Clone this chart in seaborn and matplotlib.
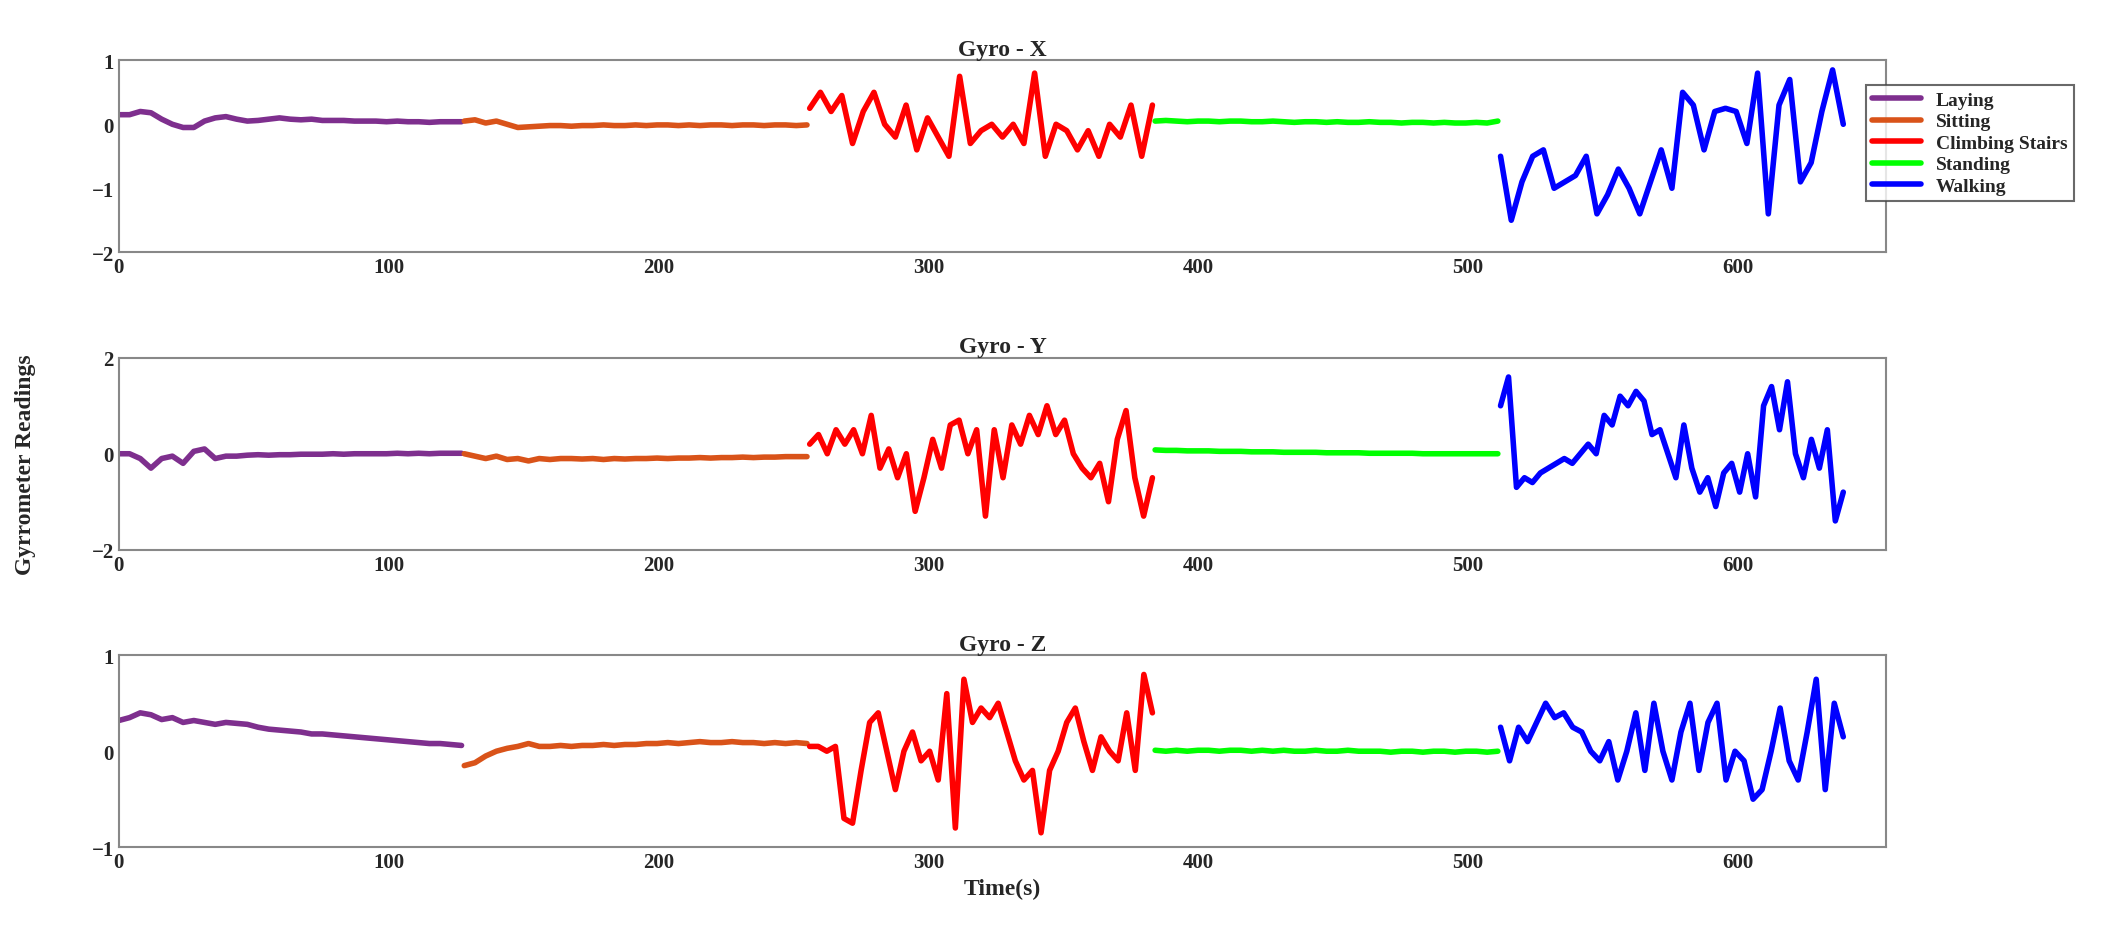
import numpy as np
import pandas as pd
import seaborn as sns
import matplotlib.pyplot as plt

activities = ["Laying", "Sitting", "Climbing Stairs", "Standing", "Walking"]
colors = ["#7E2F8E", "#D95319", "#FF0000", "#00FF00", "#0000FF"]
seg_starts = [0, 128, 256, 384, 512]
seg_len = 128

gyro_x = {
    "Laying": [0.15, 0.15, 0.2, 0.18, 0.08, 0.0, -0.05, -0.05, 0.05, 0.1, 0.12, 0.08, 0.05, 0.06, 0.08, 0.1, 0.08, 0.07, 0.08, 0.06, 0.06, 0.06, 0.05, 0.05, 0.05, 0.04, 0.05, 0.04, 0.04, 0.03, 0.04, 0.04, 0.04],
    "Sitting": [0.05, 0.07, 0.02, 0.05, 0.0, -0.05, -0.04, -0.03, -0.02, -0.02, -0.03, -0.02, -0.02, -0.01, -0.02, -0.02, -0.01, -0.02, -0.01, -0.01, -0.02, -0.01, -0.02, -0.01, -0.01, -0.02, -0.01, -0.01, -0.02, -0.01, -0.01, -0.02, -0.01],
    "Climbing Stairs": [0.25, 0.5, 0.2, 0.45, -0.3, 0.2, 0.5, 0.0, -0.2, 0.3, -0.4, 0.1, -0.2, -0.5, 0.75, -0.3, -0.1, 0.0, -0.2, 0.0, -0.3, 0.8, -0.5, 0.0, -0.1, -0.4, -0.1, -0.5, 0.0, -0.2, 0.3, -0.5, 0.3],
    "Standing": [0.05, 0.06, 0.05, 0.04, 0.05, 0.05, 0.04, 0.05, 0.05, 0.04, 0.04, 0.05, 0.04, 0.03, 0.04, 0.04, 0.03, 0.04, 0.03, 0.03, 0.04, 0.03, 0.03, 0.02, 0.03, 0.03, 0.02, 0.03, 0.02, 0.02, 0.03, 0.02, 0.05],
    "Walking": [-0.5, -1.5, -0.9, -0.5, -0.4, -1.0, -0.9, -0.8, -0.5, -1.4, -1.1, -0.7, -1.0, -1.4, -0.9, -0.4, -1.0, 0.5, 0.3, -0.4, 0.2, 0.25, 0.2, -0.3, 0.8, -1.4, 0.3, 0.7, -0.9, -0.6, 0.2, 0.85, 0.0],
}
gyro_y = {
    "Laying": [0.0, 0.0, -0.1, -0.3, -0.1, -0.05, -0.2, 0.05, 0.1, -0.1, -0.05, -0.05, -0.03, -0.02, -0.03, -0.02, -0.02, -0.01, -0.01, -0.01, 0.0, -0.01, 0.0, 0.0, 0.0, 0.0, 0.01, 0.0, 0.01, 0.0, 0.01, 0.01, 0.01],
    "Sitting": [0.0, -0.05, -0.1, -0.05, -0.12, -0.1, -0.15, -0.1, -0.12, -0.1, -0.1, -0.11, -0.1, -0.12, -0.1, -0.11, -0.1, -0.1, -0.09, -0.1, -0.09, -0.09, -0.08, -0.09, -0.08, -0.08, -0.07, -0.08, -0.07, -0.07, -0.06, -0.06, -0.06],
    "Climbing Stairs": [0.2, 0.4, 0.0, 0.5, 0.2, 0.5, 0.0, 0.8, -0.3, 0.1, -0.5, 0.0, -1.2, -0.5, 0.3, -0.3, 0.6, 0.7, 0.0, 0.5, -1.3, 0.5, -0.5, 0.6, 0.2, 0.8, 0.4, 1.0, 0.4, 0.7, 0.0, -0.3, -0.5, -0.2, -1.0, 0.3, 0.9, -0.5, -1.3, -0.5],
    "Standing": [0.08, 0.07, 0.07, 0.06, 0.06, 0.06, 0.05, 0.05, 0.05, 0.04, 0.04, 0.04, 0.03, 0.03, 0.03, 0.03, 0.02, 0.02, 0.02, 0.02, 0.01, 0.01, 0.01, 0.01, 0.01, 0.0, 0.0, 0.0, 0.0, 0.0, 0.0, 0.0, 0.0],
    "Walking": [1.0, 1.6, -0.7, -0.5, -0.6, -0.4, -0.3, -0.2, -0.1, -0.2, 0.0, 0.2, 0.0, 0.8, 0.6, 1.2, 1.0, 1.3, 1.1, 0.4, 0.5, 0.0, -0.5, 0.6, -0.3, -0.8, -0.5, -1.1, -0.4, -0.2, -0.8, 0.0, -0.9, 1.0, 1.4, 0.5, 1.5, 0.0, -0.5, 0.3, -0.3, 0.5, -1.4, -0.8],
}
gyro_z = {
    "Laying": [0.32, 0.35, 0.4, 0.38, 0.33, 0.35, 0.3, 0.32, 0.3, 0.28, 0.3, 0.29, 0.28, 0.25, 0.23, 0.22, 0.21, 0.2, 0.18, 0.18, 0.17, 0.16, 0.15, 0.14, 0.13, 0.12, 0.11, 0.1, 0.09, 0.08, 0.08, 0.07, 0.06],
    "Sitting": [-0.15, -0.12, -0.05, 0.0, 0.03, 0.05, 0.08, 0.05, 0.05, 0.06, 0.05, 0.06, 0.06, 0.07, 0.06, 0.07, 0.07, 0.08, 0.08, 0.09, 0.08, 0.09, 0.1, 0.09, 0.09, 0.1, 0.09, 0.09, 0.08, 0.09, 0.08, 0.09, 0.08],
    "Climbing Stairs": [0.05, 0.05, 0.0, 0.05, -0.7, -0.75, -0.2, 0.3, 0.4, 0.0, -0.4, 0.0, 0.2, -0.1, 0.0, -0.3, 0.6, -0.8, 0.75, 0.3, 0.45, 0.35, 0.5, 0.2, -0.1, -0.3, -0.2, -0.85, -0.2, 0.0, 0.3, 0.45, 0.1, -0.2, 0.15, 0.0, -0.1, 0.4, -0.2, 0.8, 0.4],
    "Standing": [0.01, 0.0, 0.01, 0.0, 0.01, 0.01, 0.0, 0.01, 0.01, 0.0, 0.01, 0.0, 0.01, 0.0, 0.0, 0.01, 0.0, 0.0, 0.01, 0.0, 0.0, 0.0, -0.01, 0.0, 0.0, -0.01, 0.0, 0.0, -0.01, 0.0, 0.0, -0.01, 0.0],
    "Walking": [0.25, -0.1, 0.25, 0.1, 0.3, 0.5, 0.35, 0.4, 0.25, 0.2, 0.0, -0.1, 0.1, -0.3, 0.0, 0.4, -0.2, 0.5, 0.0, -0.3, 0.2, 0.5, -0.2, 0.3, 0.5, -0.3, 0.0, -0.1, -0.5, -0.4, 0.0, 0.45, -0.1, -0.3, 0.2, 0.75, -0.4, 0.5, 0.15],
}

panels = [("Gyro - X", gyro_x, (-2, 1), [-2, -1, 0, 1]),
          ("Gyro - Y", gyro_y, (-2, 2), [-2, 0, 2]),
          ("Gyro - Z", gyro_z, (-1, 1), [-1, 0, 1])]


def to_frame(series):
    rows = []
    for act, start in zip(activities, seg_starts):
        vals = series[act]
        t = np.linspace(start, start + seg_len - 1, len(vals))
        rows.append(pd.DataFrame({"t": t, "v": vals, "activity": act}))
    return pd.concat(rows, ignore_index=True)


sns.set_style("white")
plt.rcParams["font.family"] = ["Liberation Serif", "DejaVu Serif"]
plt.rcParams["font.weight"] = "bold"

fig, axes = plt.subplots(3, 1, figsize=(21.22, 9.29), dpi=100)
fig.subplots_adjust(left=0.056, right=0.889, top=0.934, bottom=0.087, hspace=0.55)

for ax, (title, series, ylim, yticks) in zip(axes, panels):
    df = to_frame(series)
    sns.lineplot(data=df, x="t", y="v", hue="activity", palette=colors,
                 hue_order=activities, units="activity", estimator=None,
                 linewidth=4, ax=ax, legend=(title == "Gyro - X"))
    ax.set_xlim(0, 655)
    ax.set_ylim(*ylim)
    ax.set_yticks(yticks)
    ax.set_xticks([0, 100, 200, 300, 400, 500, 600])
    ax.set_title(title, fontsize=17, fontweight="bold", pad=4)
    ax.set_xlabel("")
    ax.set_ylabel("")
    ax.tick_params(labelsize=15, direction="in", length=6, color="#444444")
    for sp in ax.spines.values():
        sp.set_color("#888888")
        sp.set_linewidth(1.5)

leg = axes[0].legend(loc="upper left", bbox_to_anchor=(0.983, 0.92), fontsize=14,
                     frameon=True, fancybox=False, edgecolor="#444444",
                     handlelength=2.5, borderpad=0.3, labelspacing=0.2)
for line in leg.get_lines():
    line.set_linewidth(4)
leg.get_frame().set_linewidth(1.5)

axes[2].set_xlabel("Time(s)", fontsize=17, fontweight="bold")
fig.text(0.012, 0.5, "Gyrrometer Readings", rotation=90, va="center",
         ha="center", fontsize=17, fontweight="bold")

fig.savefig("out.png")
